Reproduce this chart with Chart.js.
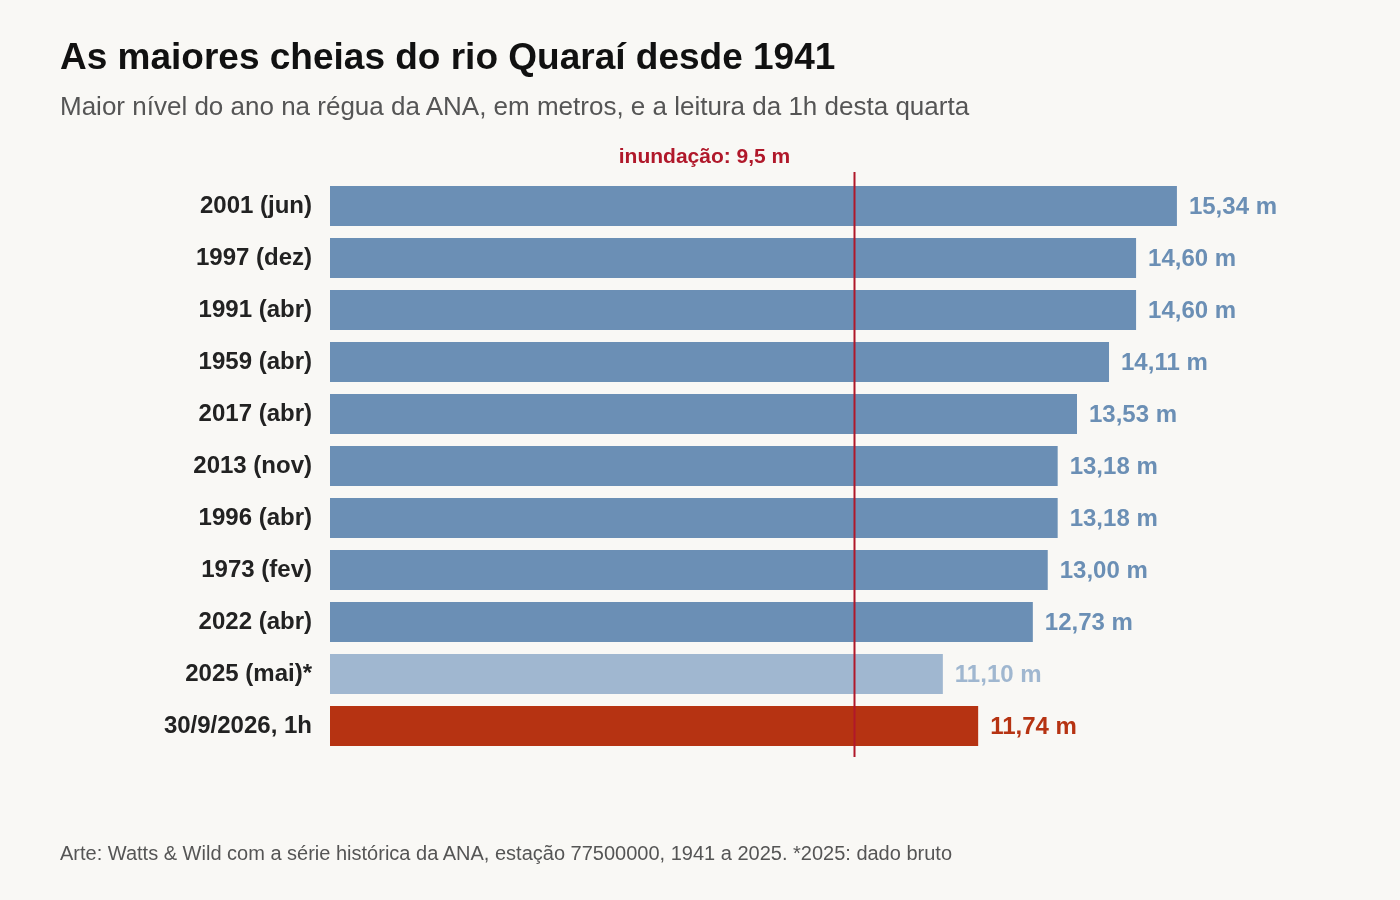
<!DOCTYPE html>
<html>
<head>
<meta charset="utf-8">
<script src="https://cdn.jsdelivr.net/npm/chart.js@4"></script>
<style>
  body{margin:0;background:#f9f8f5;font-family:"Liberation Sans",Arial,sans-serif;}
  #wrap{position:relative;width:1400px;height:900px;}
  #chart{position:absolute;left:0;top:0;}
  .t{position:absolute;left:60px;white-space:nowrap;}
  #title{top:36px;font-size:37px;font-weight:bold;color:#111;}
  #sub{top:91px;font-size:26px;color:#555;}
  #foot{top:842px;font-size:20px;color:#555;}
</style>
</head>
<body>
<div id="wrap">
  <canvas id="chart" width="1400" height="900"></canvas>
  <div class="t" id="title">As maiores cheias do rio Quaraí desde 1941</div>
  <div class="t" id="sub">Maior nível do ano na régua da ANA, em metros, e a leitura da 1h desta quarta</div>
  <div class="t" id="foot">Arte: Watts &amp; Wild com a série histórica da ANA, estação 77500000, 1941 a 2025. *2025: dado bruto</div>
</div>
<script>
/* ===== dados ===== */
const categorias = ["2001 (jun)","1997 (dez)","1991 (abr)","1959 (abr)","2017 (abr)","2013 (nov)",
                    "1996 (abr)","1973 (fev)","2022 (abr)","2025 (mai)*","30/9/2026, 1h"];
const niveis = [15.34,14.60,14.60,14.11,13.53,13.18,13.18,13.00,12.73,11.10,11.74];
const cotaInundacao = 9.5;

const AZUL = "#6b8fb5", AZUL_CLARO = "#a0b7d0", VERMELHO = "#b63312";
const cores = niveis.map((_,i) => i === 9 ? AZUL_CLARO : (i === 10 ? VERMELHO : AZUL));

/* ===== rótulos e linha de inundação ===== */
const extras = {
  id: "extras",
  afterDatasetsDraw(chart){
    const {ctx, scales:{x, y}} = chart;
    const meta = chart.getDatasetMeta(0);
    ctx.save();
    ctx.font = "bold 24px 'Liberation Sans', Arial, sans-serif";
    ctx.textBaseline = "middle";
    ctx.textAlign = "left";
    meta.data.forEach((bar,i) => {
      ctx.fillStyle = cores[i];
      ctx.fillText(niveis[i].toFixed(2).replace(".", ",") + " m", bar.x + 12, bar.y + 1);
    });
    const lx = x.getPixelForValue(cotaInundacao);
    ctx.strokeStyle = "#b0182a";
    ctx.lineWidth = 2;
    ctx.beginPath();
    ctx.moveTo(lx, y.top - 8);
    ctx.lineTo(lx, y.bottom + 5);
    ctx.stroke();
    ctx.fillStyle = "#b0182a";
    ctx.font = "bold 21px 'Liberation Sans', Arial, sans-serif";
    ctx.textAlign = "center";
    ctx.fillText("inundação: 9,5 m", lx - 150, y.top - 23);
    ctx.restore();
  }
};

new Chart(document.getElementById("chart"), {
  type: "bar",
  data: {
    labels: categorias,
    datasets: [{ data: niveis, backgroundColor: cores, barPercentage: 0.77, categoryPercentage: 1 }]
  },
  options: {
    indexAxis: "y",
    responsive: false,
    animation: false,
    layout: { padding: { top: 180, bottom: 148, left: 0, right: 21 } },
    plugins: { legend: { display: false }, tooltip: { enabled: false } },
    scales: {
      x: { min: 0, max: 19, display: false },
      y: {
        afterFit: s => { s.width = 330; },
        grid: { display: false, drawTicks: false },
        border: { display: false },
        ticks: { padding: 18, color: "#222", font: { family: "'Liberation Sans', Arial, sans-serif", size: 24, weight: "bold" } }
      }
    }
  },
  plugins: [extras]
});
</script>
</body>
</html>
